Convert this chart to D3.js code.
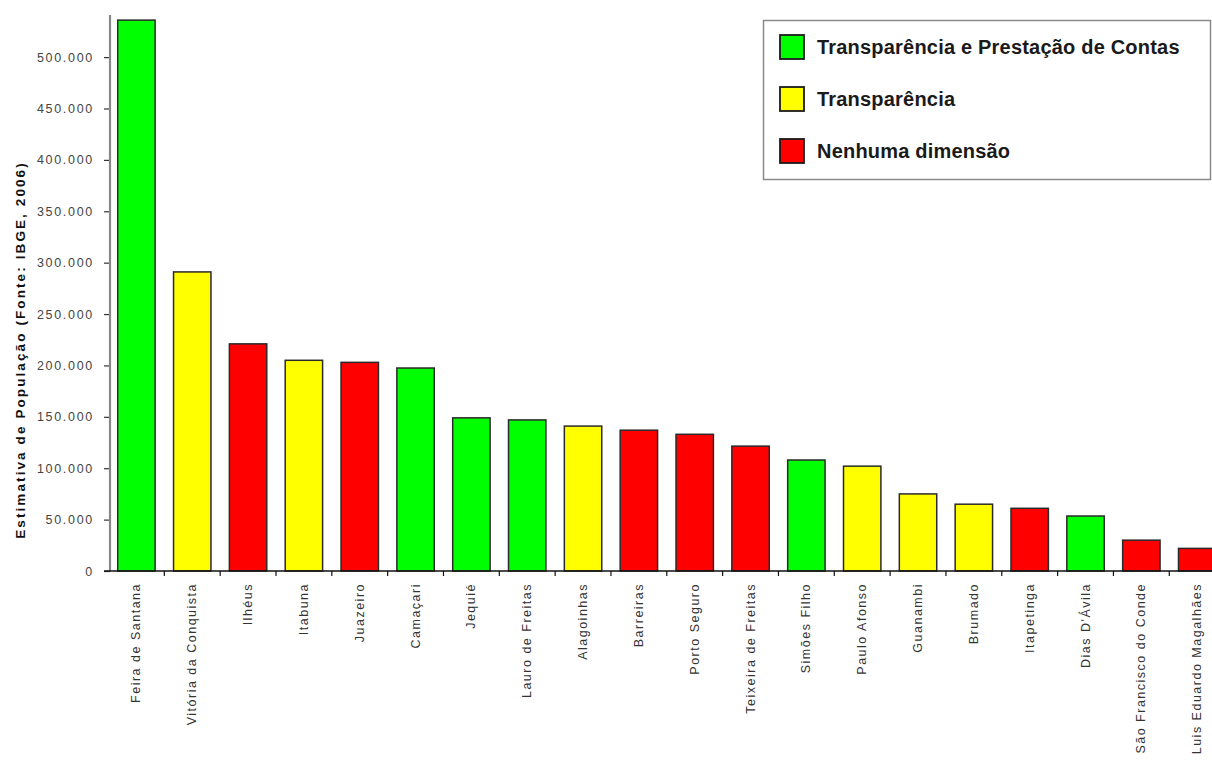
<!DOCTYPE html>
<html>
<head>
<meta charset="utf-8">
<script src="https://cdn.jsdelivr.net/npm/d3@7"></script>
<style>
  html, body { margin: 0; padding: 0; background: #fff; }
  svg { display: block; font-family: Arial, "Liberation Sans", sans-serif; }
</style>
</head>
<body>
<svg id="chart" width="1212" height="760"></svg>
<script>
// Municipalities of Bahia, ordered by 2006 population estimate (IBGE)
const municipios = [
  "Feira de Santana", "Vitória da Conquista", "Ilhéus", "Itabuna", "Juazeiro",
  "Camaçari", "Jequié", "Lauro de Freitas", "Alagoinhas", "Barreiras",
  "Porto Seguro", "Teixeira de Freitas", "Simões Filho", "Paulo Afonso", "Guanambi",
  "Brumado", "Itapetinga", "Dias D'Ávila", "São Francisco do Conde", "Luis Eduardo Magalhães"
];
const populacao = [
  536000, 291000, 221000, 205000, 203000,
  197500, 149000, 147000, 141000, 137000,
  133000, 121500, 108000, 102000, 75000,
  65000, 61000, 53500, 30000, 22000
];
// 0 = Transparência e Prestação de Contas, 1 = Transparência, 2 = Nenhuma dimensão
const dimensao = [
  0, 1, 2, 1, 2,
  0, 0, 0, 1, 2,
  2, 2, 0, 1, 1,
  1, 2, 0, 2, 2
];
const legendaRotulos = ["Transparência e Prestação de Contas", "Transparência", "Nenhuma dimensão"];
const coresDimensao = ["#00ff00", "#ffff00", "#ff0000"];
const yTicks = [0, 50000, 100000, 150000, 200000, 250000, 300000, 350000, 400000, 450000, 500000];
const yTitulo = "Estimativa de População (Fonte: IBGE, 2006)";

const svg = d3.select("#chart");

const x0 = 108.5, step = 55.83;
const x = d3.scaleBand()
  .domain(municipios)
  .range([x0, x0 + step * municipios.length])
  .paddingInner(0.33)
  .paddingOuter(0.165);

const y = d3.scaleLinear().domain([0, 540000]).range([571, 16]);

const ptBR = d3.formatLocale({ decimal: ",", thousands: ".", grouping: [3], currency: ["R$", ""] });
const fmt = ptBR.format(",d");

// Bars
svg.append("g")
  .selectAll("rect")
  .data(municipios)
  .join("rect")
  .attr("x", d => x(d))
  .attr("width", x.bandwidth())
  .attr("y", (d, i) => y(populacao[i]))
  .attr("height", (d, i) => y(0) - y(populacao[i]))
  .attr("fill", (d, i) => coresDimensao[dimensao[i]])
  .attr("stroke", "#2a2a2a")
  .attr("stroke-width", 1.5);

// Y axis
const yAxis = svg.append("g")
  .attr("transform", "translate(110,0)")
  .call(d3.axisLeft(y).tickValues(yTicks).tickFormat(fmt).tickSize(6).tickPadding(10));
yAxis.select(".domain").remove();
yAxis.selectAll(".tick line").attr("stroke", "#333").attr("stroke-width", 1.2);
yAxis.selectAll(".tick text")
  .attr("fill", "#444")
  .style("font-size", "12.5px")
  .style("letter-spacing", "1.7px");
svg.append("line")
  .attr("x1", 110).attr("x2", 110)
  .attr("y1", 15).attr("y2", y(0))
  .attr("stroke", "#888").attr("stroke-width", 2.2);

// X axis with ticks on band boundaries
svg.append("line")
  .attr("x1", 104).attr("x2", 1212)
  .attr("y1", y(0)).attr("y2", y(0))
  .attr("stroke", "#111").attr("stroke-width", 1.5);
svg.append("g")
  .selectAll("line")
  .data(municipios.slice(1))
  .join("line")
  .attr("x1", d => x(d) - x.step() * x.paddingInner() / 2)
  .attr("x2", d => x(d) - x.step() * x.paddingInner() / 2)
  .attr("y1", y(0)).attr("y2", y(0) + 5)
  .attr("stroke", "#111").attr("stroke-width", 1.2);

// Category labels, rotated
svg.append("g")
  .selectAll("text")
  .data(municipios)
  .join("text")
  .attr("transform", d => `translate(${x(d) + x.bandwidth() / 2 + 4},583) rotate(-90)`)
  .attr("text-anchor", "end")
  .attr("fill", "#333")
  .style("font-size", "12.5px")
  .style("letter-spacing", "1.5px")
  .text(d => d);

// Y axis title
svg.append("text")
  .attr("transform", "translate(25,350) rotate(-90)")
  .attr("text-anchor", "middle")
  .attr("fill", "#111")
  .style("font-size", "13.5px")
  .style("font-weight", "bold")
  .style("letter-spacing", "2.1px")
  .text(yTitulo);

// Legend
const leg = svg.append("g");
leg.append("rect")
  .attr("x", 763.5).attr("y", 20.5)
  .attr("width", 447).attr("height", 159)
  .attr("fill", "#fff").attr("stroke", "#8a8a8a").attr("stroke-width", 1.5);
const rows = leg.selectAll("g.item")
  .data(legendaRotulos)
  .join("g")
  .attr("class", "item")
  .attr("transform", (d, i) => `translate(780,${35 + i * 52})`);
rows.append("rect")
  .attr("width", 24).attr("height", 24)
  .attr("fill", (d, i) => coresDimensao[i])
  .attr("stroke", "#1a1a1a").attr("stroke-width", 1.8);
rows.append("text")
  .attr("x", 37).attr("y", 19)
  .attr("fill", "#1a1a1a")
  .style("font-size", "20px")
  .style("font-weight", "bold")
  .style("letter-spacing", "0.2px")
  .text(d => d);
</script>
</body>
</html>
